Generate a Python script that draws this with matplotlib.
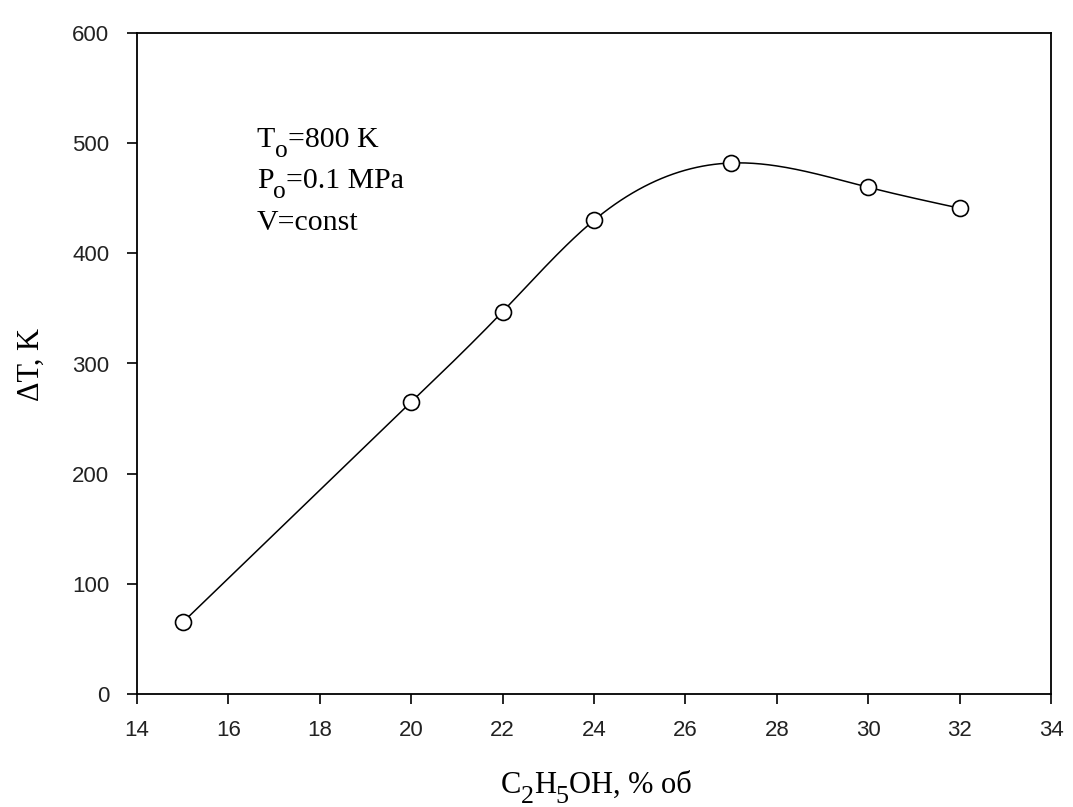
import numpy as np
import matplotlib
matplotlib.use("Agg")
import matplotlib.pyplot as plt
from matplotlib.transforms import offset_copy

# Ethanol concentration (% vol) and temperature rise (K)
ethanol = [15, 20, 22, 24, 27, 30, 32]
delta_t = [65, 265, 347, 430, 482, 460, 441]

x_ticks = [14, 16, 18, 20, 22, 24, 26, 28, 30, 32, 34]
y_ticks = [0, 100, 200, 300, 400, 500, 600]

SERIF = 'Liberation Serif'


def natural_spline(x, y, xs):
    x = np.asarray(x, float)
    y = np.asarray(y, float)
    n = len(x)
    h = np.diff(x)
    A = np.zeros((n, n))
    b = np.zeros(n)
    A[0, 0] = A[-1, -1] = 1.0
    for i in range(1, n - 1):
        A[i, i - 1] = h[i - 1]
        A[i, i] = 2 * (h[i - 1] + h[i])
        A[i, i + 1] = h[i]
        b[i] = 6 * ((y[i + 1] - y[i]) / h[i] - (y[i] - y[i - 1]) / h[i - 1])
    m = np.linalg.solve(A, b)
    idx = np.clip(np.searchsorted(x, xs) - 1, 0, n - 2)
    x0, x1 = x[idx], x[idx + 1]
    hh = x1 - x0
    t0 = x1 - xs
    t1 = xs - x0
    return (m[idx] * t0 ** 3 / (6 * hh) + m[idx + 1] * t1 ** 3 / (6 * hh)
            + (y[idx] / hh - m[idx] * hh / 6) * t0
            + (y[idx + 1] / hh - m[idx + 1] * hh / 6) * t1)


fig = plt.figure(figsize=(10.73, 8.07), dpi=100)
ax = fig.add_axes([137 / 1073, 1 - 694 / 807, 914 / 1073, 661 / 807])

xs = np.linspace(ethanol[0], ethanol[-1], 400)
ax.plot(xs, natural_spline(ethanol, delta_t, xs), color='black', lw=1.1)
ax.plot(ethanol, delta_t, linestyle='none', marker='o', markersize=11.5,
        markerfacecolor='white', markeredgecolor='black', markeredgewidth=1.2)

ax.set_xlim(14, 34)
ax.set_ylim(0, 600)
ax.set_xticks(x_ticks)
ax.set_yticks(y_ticks)
ax.tick_params(direction='out', length=7, width=1.2, labelsize=16,
               top=False, right=False)
ax.tick_params(axis='x', pad=12)
ax.tick_params(axis='y', pad=13)
for lab in ax.get_xticklabels() + ax.get_yticklabels():
    lab.set_family('Liberation Sans')
    lab.set_color('#222222')
for s in ax.spines.values():
    s.set_linewidth(1.3)

renderer = fig.canvas.get_renderer()


def subscript_text(x, y, parts, size, transform, center=False):
    """Draw a run of (text, is_subscript) pieces side by side."""
    items = []
    total = 0.0
    for txt, sub in parts:
        fs = size * 0.85 if sub else size
        dy = -size * 0.33 if sub else 0.0
        t = fig.text(0, 0, txt, family=SERIF, fontsize=fs,
                     va='baseline', ha='left')
        w = t.get_window_extent(renderer=renderer).width * 72 / fig.dpi
        items.append((t, dy, w))
        total += w
    dx = -total / 2 if center else 0.0
    for t, dy, w in items:
        t.set_position((x, y))
        t.set_transform(offset_copy(transform, fig=fig, x=dx, y=dy,
                                    units='points'))
        dx += w


# Axis titles
subscript_text(596 / 1073, 1 - 793 / 807,
               [('C', False), ('2', True), ('H', False), ('5', True),
                ('OH, % об', False)], 22, fig.transFigure, center=True)
fig.text(31 / 1073, 1 - 364.5 / 807, 'ΔT, K', family=SERIF, fontsize=22,
         rotation=90, ha='center', va='center')

# Initial conditions
ann_size = 21.5
subscript_text(0.131, 0.8275, [('T', False), ('o', True), ('=800 K', False)],
               ann_size, ax.transAxes)
subscript_text(0.131, 0.7655, [('P', False), ('o', True), ('=0.1 MPa', False)],
               ann_size, ax.transAxes)
subscript_text(0.131, 0.702, [('V=const', False)], ann_size, ax.transAxes)

fig.savefig('out.png', dpi=100)
